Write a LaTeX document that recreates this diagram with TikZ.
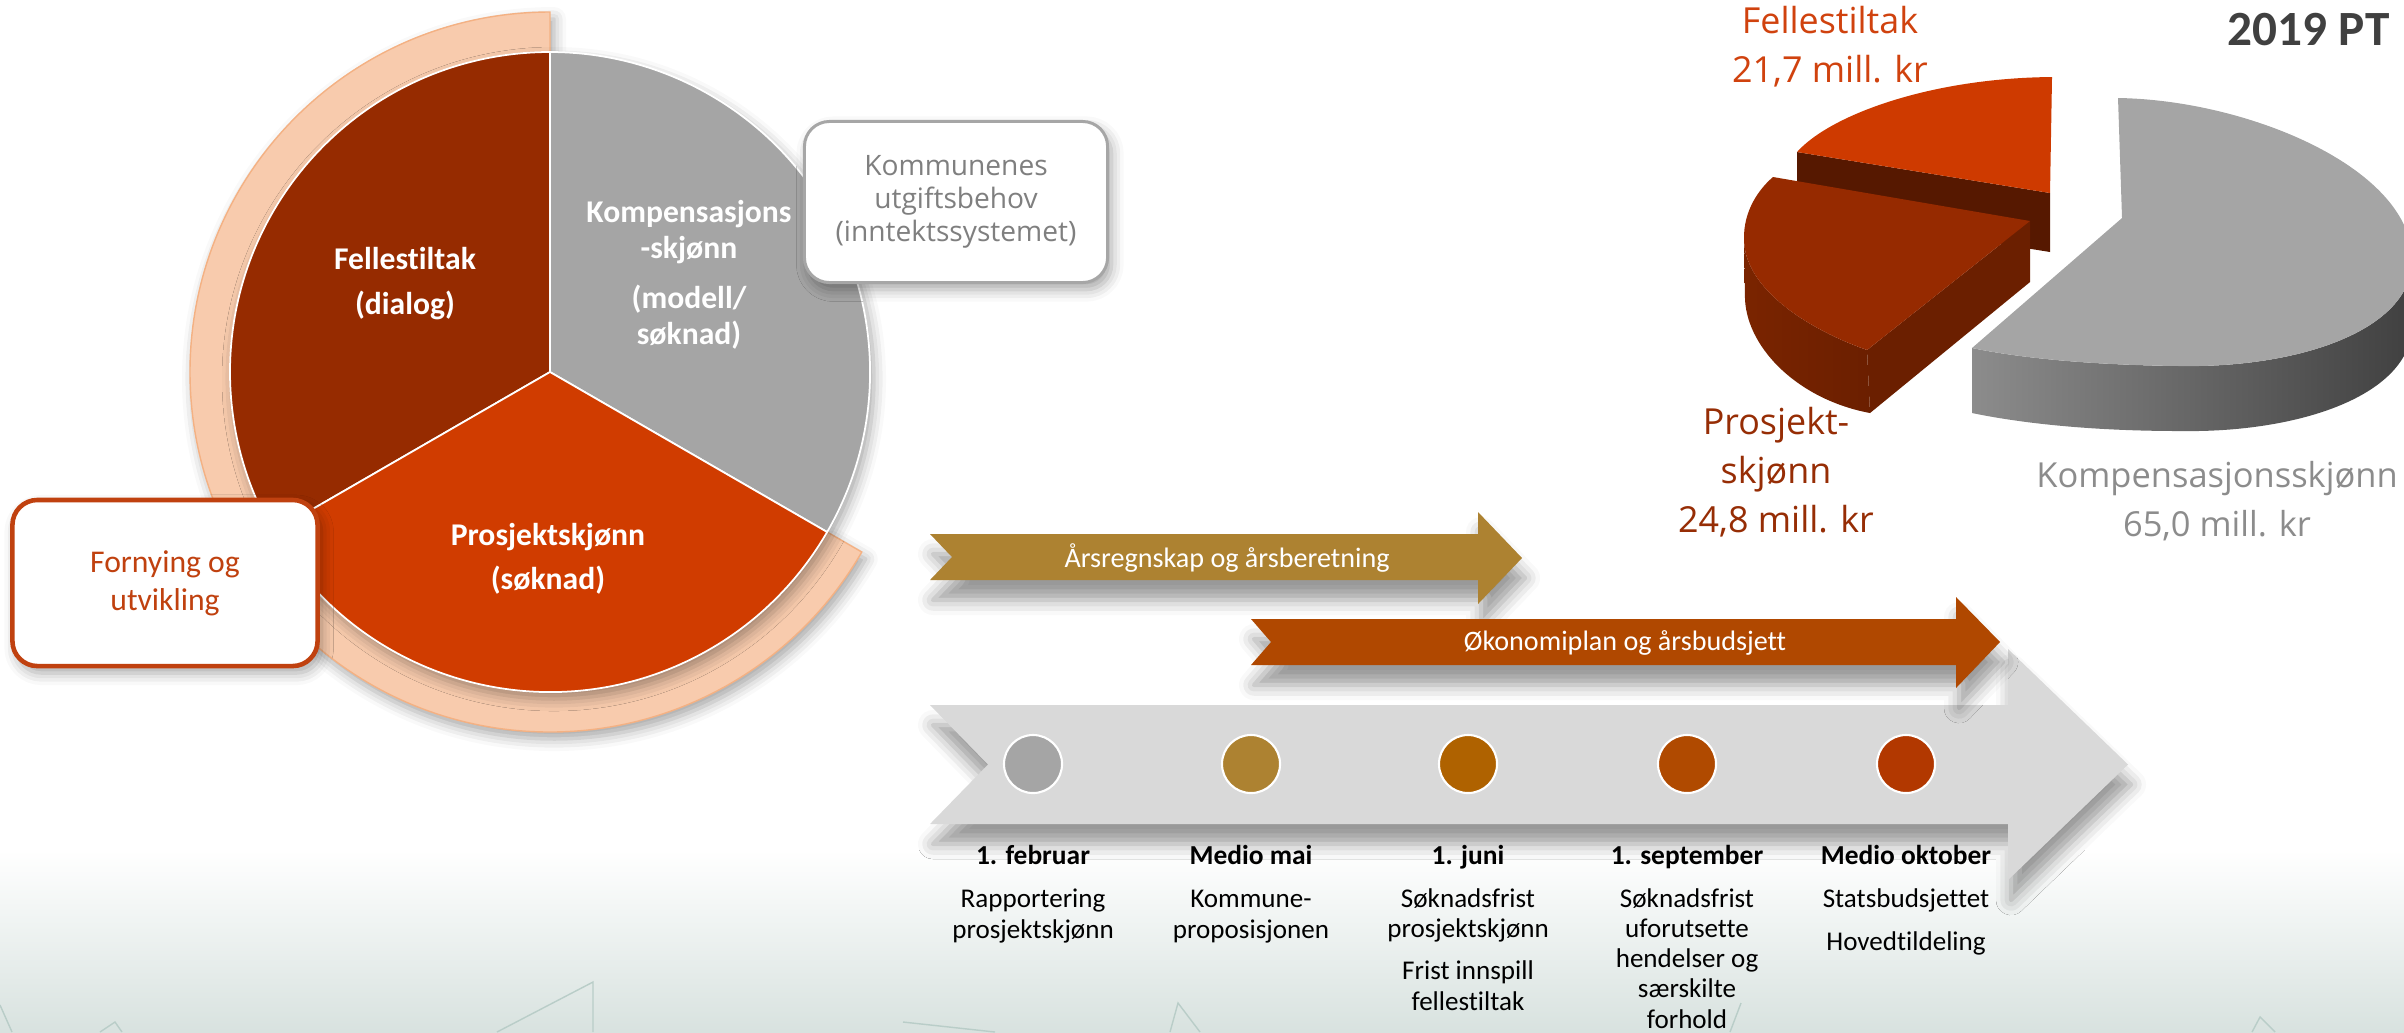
\documentclass[tikz,border=0pt]{standalone}
\usepackage{fontspec}
\setmainfont{Carlito}[Ligatures=NoCommon]
\newfontfamily\labelfont{Open Sans}[Ligatures=NoCommon]
\usepackage{tikz}
\usetikzlibrary{shadows.blur}
\definecolor{fellred}{RGB}{150,43,0}
\definecolor{kompgrey}{RGB}{165,165,165}
\definecolor{prosorange}{RGB}{208,60,0}
\definecolor{ringpeach}{RGB}{248,203,173}
\definecolor{ringedge}{RGB}{244,177,131}
\definecolor{boxgrey}{RGB}{166,166,166}
\definecolor{textgrey}{RGB}{127,127,127}
\definecolor{fornyred}{RGB}{192,65,15}
\definecolor{tlgrey}{RGB}{217,217,217}
\definecolor{tlgold}{RGB}{173,130,49}
\definecolor{tlorange}{RGB}{176,72,0}
\definecolor{dotgrey}{RGB}{165,165,165}
\definecolor{dotgold}{RGB}{173,130,49}
\definecolor{dotamber}{RGB}{175,98,0}
\definecolor{dotrust}{RGB}{176,74,0}
\definecolor{dotred}{RGB}{178,56,0}
\definecolor{orangetop}{RGB}{206,58,0}
\definecolor{orangefront}{RGB}{86,24,0}
\definecolor{redtop}{RGB}{150,42,0}
\definecolor{redside}{RGB}{107,31,0}
\definecolor{redcurve}{RGB}{122,36,0}
\definecolor{greytop}{RGB}{165,165,165}
\definecolor{greysideleft}{RGB}{140,140,140}
\definecolor{greysideright}{RGB}{64,64,64}
\definecolor{fellabel}{RGB}{208,66,14}
\definecolor{proslabel}{RGB}{150,45,5}
\definecolor{komplabel}{RGB}{140,140,140}
\definecolor{yeargrey}{RGB}{64,64,64}
\definecolor{decoline}{RGB}{185,205,200}
\definecolor{bgbottom}{RGB}{216,226,223}

\begin{document}
\begin{tikzpicture}[x=0.01cm,y=0.01cm,
  softshadow/.style={blur shadow={shadow xshift=0.04cm,shadow yshift=-0.07cm,shadow blur radius=0.12cm,shadow opacity=35}},
  arrowshadow/.style={blur shadow={shadow xshift=0.03cm,shadow yshift=-0.2cm,shadow blur radius=0.15cm,shadow opacity=40}},
  slicetext/.style={text=white,font=\fontsize{9}{10.2}\selectfont\bfseries,align=center,anchor=base},
  infobox/.style={fill=white,rounded corners=0.25cm,minimum width=3.03cm,minimum height=1.61cm,align=center,softshadow},
  chartlabel/.style={font=\labelfont\fontsize{10.2}{13.8}\selectfont,align=center,anchor=base},
  dot/.style={circle,draw=white,line width=0.6pt,minimum size=0.58cm,inner sep=0pt},
  datehead/.style={font=\fontsize{7.8}{8.7}\selectfont\bfseries,anchor=base},
  datetext/.style={font=\fontsize{7.7}{8.6}\selectfont,align=center,anchor=base},
  arrowtext/.style={text=white,font=\fontsize{8}{9}\selectfont},
  deco/.style={draw=decoline,line width=0.4pt}]
\useasboundingbox (0,0) rectangle (2404,-1032);
\shade[top color=white,bottom color=bgbottom] (0,-850) rectangle (2404,-1032);
\draw[deco] (497,-1032) -- (593,-982) -- (593,-1032);
\draw[deco] (100,-1032) -- (115,-1022) -- (122,-1032);
\draw[deco] (0,-1005) -- (12,-1032);
\draw[deco] (903,-1022) -- (995,-1032);
\draw[deco] (1170,-1032) -- (1178,-1003) -- (1200,-1032);
\draw[deco] (1730,-1032) -- (1741,-1003);
\draw[deco] (2252,-1032) -- (2260,-1017) -- (2275,-1032);

\begin{scope}[shift={(550,-372)}]
\fill[ringpeach,draw=ringedge,line width=0.4pt,softshadow] (90:360) arc[start angle=90,end angle=330,radius=360] -- (330:320) arc[start angle=330,end angle=90,radius=320] -- cycle;
\fill[white,softshadow] (0,0) circle (320);
\fill[fellred,draw=white,line width=0.5pt] (0,0) -- (90:320) arc[start angle=90,end angle=210,radius=320] -- cycle;
\fill[kompgrey,draw=white,line width=0.5pt] (0,0) -- (-30:320) arc[start angle=-30,end angle=90,radius=320] -- cycle;
\fill[prosorange,draw=white,line width=0.5pt] (0,0) -- (210:320) arc[start angle=210,end angle=330,radius=320] -- cycle;
\end{scope}
\node[slicetext] (fell) at (405,-314) {Fellestiltak\\[2.5pt](dialog)};
\node[slicetext] (komp) at (689,-344) {Kompensasjons\\-skjønn\\[4pt](modell/\\søknad)};
\node[slicetext] (pros) at (548,-589) {Prosjektskjønn\\[2.3pt](søknad)};
\node[infobox,draw=boxgrey,line width=0.85pt,text=textgrey,font=\labelfont\fontsize{8}{9.4}\selectfont] (utgift) at (956,-202) {Kommunenes\\utgiftsbehov\\(inntektssystemet)};
\node[infobox,draw=fornyred,line width=1.3pt,text=fornyred,font=\fontsize{9}{10.8}\selectfont,minimum width=3.05cm,minimum height=1.66cm] (forny) at (165,-583) {Fornying og\\utvikling};

\fill[tlgrey,arrowshadow] (930,-705) -- (2008,-705) -- (2008,-649) -- (2128,-764.5) -- (2008,-880) -- (2008,-824) -- (930,-824) -- (988,-764.5) -- cycle;
\fill[tlgold,arrowshadow] (930,-534) -- (1478,-534) -- (1478,-512) -- (1522,-558) -- (1478,-604) -- (1478,-580) -- (930,-580) -- (952,-557) -- cycle;
\fill[tlorange,arrowshadow] (1251,-619) -- (1956,-619) -- (1956,-597) -- (2000,-642) -- (1956,-688) -- (1956,-665) -- (1251,-665) -- (1271,-642) -- cycle;
\node[arrowtext] (regnskap) at (1227,-558) {Årsregnskap og årsberetning};
\node[arrowtext] (budsjett) at (1625,-643) {Økonomiplan og årsbudsjett};
\foreach \x/\col/\y/\h/\t [count=\i] in {
  1033/dotgrey/938/1. februar/Rapportering\\prosjektskjønn,
  1251/dotgold/938/Medio mai/Kommune-\\proposisjonen,
  1468/dotamber/1010/1. juni/Søknadsfrist\\prosjektskjønn\\[3.4pt]Frist innspill\\fellestiltak,
  1687/dotrust/1028/1. september/Søknadsfrist\\uforutsette\\hendelser og\\særskilte\\forhold,
  1906/dotred/950/Medio oktober/Statsbudsjettet\\[3.4pt]Hovedtildeling}
{
  \node[dot,fill=\col] (dot\i) at (\x,-764) {};
  \node[datehead] (date\i) at (\x,-864) {\h};
  \node[datetext] (note\i) at (\x,-\y) {\t};
}

\fill[orangefront] (1797,-152) -- (2050,-193) -- (2050,-252) -- (1797,-211) -- cycle;
\fill[orangetop] (2050,-193) -- (2052,-77) .. controls (1930,-78) and (1830,-115) .. (1797,-152) -- cycle;
\shade[left color=redcurve,right color=redside] (1744,-240) -- (1745,-300) .. controls (1748,-350) and (1800,-400) .. (1870,-413) -- (1867,-350) .. controls (1810,-330) and (1745,-290) .. (1744,-240) -- cycle;
\fill[redside] (2030,-221) -- (2030,-282) -- (1870,-413) -- (1867,-350) -- cycle;
\fill[redtop] (2030,-221) -- (1773,-177) .. controls (1760,-188) and (1743,-210) .. (1744,-240) .. controls (1745,-290) and (1810,-330) .. (1867,-350) -- cycle;
\shade[left color=greysideleft,right color=greysideright] (1972,-348) -- (1972,-413) .. controls (2020,-423) and (2090,-431) .. (2180,-431) .. controls (2300,-433) and (2410,-395) .. (2412,-327) -- (2412,-262) .. controls (2410,-330) and (2300,-368) .. (2180,-366) .. controls (2090,-365) and (2020,-358) .. (1972,-348) -- cycle;
\fill[greytop] (2122,-218) -- (2118,-98) .. controls (2250,-100) and (2415,-170) .. (2412,-262) .. controls (2410,-330) and (2300,-368) .. (2180,-366) .. controls (2090,-365) and (2020,-358) .. (1972,-348) -- cycle;
\node[chartlabel,text=fellabel] (fellval) at (1830,-82) {Fellestiltak\\21,7 mill. kr};
\node[chartlabel,text=proslabel] (prosval) at (1776,-532) {Prosjekt-\\skjønn\\24,8 mill. kr};
\node[chartlabel,text=komplabel,font=\labelfont\fontsize{9.8}{13.8}\selectfont] (kompval) at (2217,-536) {Kompensasjonsskjønn\\65,0 mill. kr};
\node[font=\fontsize{14}{16}\selectfont\bfseries,text=yeargrey,anchor=base east,inner sep=0pt] (year) at (2390,-45) {2019 PT};
\end{tikzpicture}
\end{document}
